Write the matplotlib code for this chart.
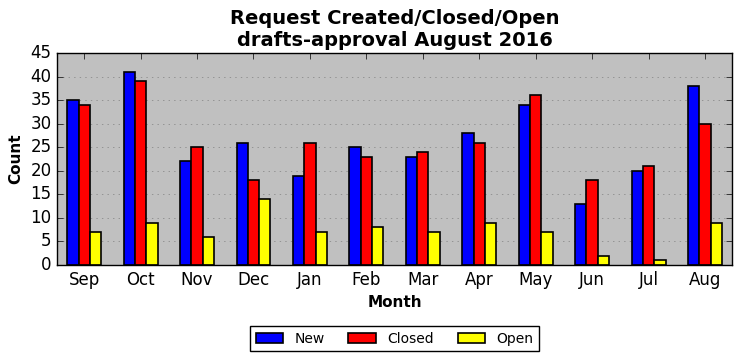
import numpy as np
import matplotlib
matplotlib.use("Agg")
import matplotlib.pyplot as plt

plt.style.use("classic")

months = ["Sep", "Oct", "Nov", "Dec", "Jan", "Feb", "Mar", "Apr", "May", "Jun", "Jul", "Aug"]
new = [35, 41, 22, 26, 19, 25, 23, 28, 34, 13, 20, 38]
closed = [34, 39, 25, 18, 26, 23, 24, 26, 36, 18, 21, 30]
open_ = [7, 9, 6, 14, 7, 8, 7, 9, 7, 2, 1, 9]

fig = plt.figure(figsize=(7.41, 3.61), dpi=100, facecolor="white")
ax = fig.add_axes([0.077, 0.266, 0.911, 0.587])
ax.set_facecolor("#c0c0c0")

x = np.arange(len(months))
w = 0.2
ax.bar(x - 0.3, new, w, align="edge", color="blue", edgecolor="black", linewidth=1.2, label="New")
ax.bar(x - 0.1, closed, w, align="edge", color="red", edgecolor="black", linewidth=1.2, label="Closed")
ax.bar(x + 0.1, open_, w, align="edge", color="yellow", edgecolor="black", linewidth=1.2, label="Open")

ax.set_xlim(-0.48, len(months) - 0.52)
ax.set_ylim(0, 45)
ax.set_yticks(range(0, 46, 5))
ax.set_xticks(x)
ax.set_xticklabels(months)
ax.tick_params(labelsize=12)
ax.yaxis.grid(True, linestyle=":", color="gray")
ax.xaxis.grid(False)
ax.set_axisbelow(True)

ax.set_xlabel("Month", fontsize=11, fontweight="bold")
ax.set_ylabel("Count", fontsize=11, fontweight="bold")
ax.set_title("Request Created/Closed/Open\ndrafts-approval August 2016", fontsize=14, fontweight="bold")

ax.legend(loc="upper center", bbox_to_anchor=(0.5, -0.256), ncol=3, fontsize=10,
          frameon=True, handlelength=2.0, columnspacing=1.7)

fig.savefig("out.png", dpi=100, facecolor="white")
